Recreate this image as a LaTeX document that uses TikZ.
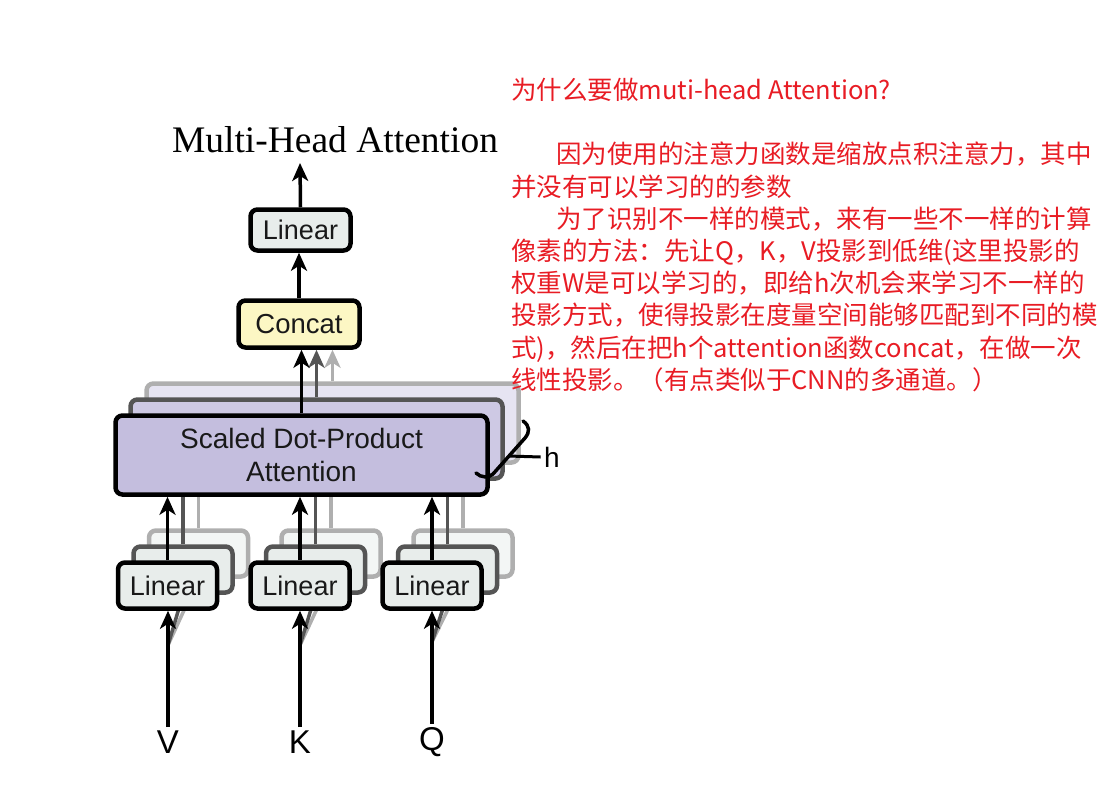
\documentclass[tikz,border=0pt]{standalone}
\usepackage{fontspec}
\setmainfont{Liberation Sans}
\newfontfamily\titlefont{Liberation Serif}
\newfontfamily\cjk{Noto Sans CJK SC}
\usetikzlibrary{arrows.meta}

\definecolor{linfill}{RGB}{232,237,235}
\definecolor{catfill}{RGB}{252,247,196}
\definecolor{attfill}{RGB}{196,190,222}
\definecolor{attfilltwo}{RGB}{206,201,228}
\definecolor{attfillthree}{RGB}{230,228,242}
\definecolor{midgray}{RGB}{85,85,85}
\definecolor{ligray}{RGB}{175,175,175}
\definecolor{notered}{RGB}{232,28,36}

\tikzset{
  box/.style={draw=black, line width=4.5pt, rounded corners=7pt, inner sep=0pt, text=black!90},
  linbox/.style={box, fill=linfill, minimum width=99pt, minimum height=46pt, font=\fontsize{27}{30}\selectfont},
  attbox/.style={box, fill=attfill, minimum width=372pt, minimum height=79pt, align=center, font=\fontsize{28}{33}\selectfont},
  midbox/.style={draw=midgray},
  backbox/.style={draw=ligray},
  arr/.style={line width=3.5pt, -{Stealth[length=18pt,width=16pt,inset=5pt]}},
  feed/.style={line width=3.5pt},
}

\begin{document}
\begin{tikzpicture}[x=1pt,y=1pt]
  \useasboundingbox (0,0) rectangle (1107,-797);

  % title
  \node[font=\titlefont\fontsize{37.5}{40}\selectfont] (title) at (335,-140) {Multi-Head Attention};

  % back copies (h heads)
  \node[attbox, backbox, fill=attfillthree] (att3) at (332.5,-423) {};
  \node[attbox, midbox, fill=attfilltwo] (att2) at (316.5,-439) {};
  \foreach \n/\x in {V/167.5,K/300,Q/432} {
    \node[linbox, backbox, fill=linfill!50] (lin\n3) at (\x+31,-553.5) {};
    \node[linbox, midbox] (lin\n2) at (\x+15.5,-569.5) {};
  }

  % inputs
  \node[font=\fontsize{33}{36}\selectfont] (V) at (168,-742) {V};
  \node[font=\fontsize{33}{36}\selectfont] (K) at (300,-742) {K};
  \node[font=\fontsize{33}{36}\selectfont] (Q) at (432,-742) {Q};
  \foreach \n in {V,K,Q} {
    \coordinate (split\n) at ([yshift=82pt]\n.north);
    \draw[feed, ligray] (split\n) -- (lin\n3.south);
    \draw[feed, midgray] (split\n) -- (lin\n2.south);
    \draw[feed, ligray] (lin\n3.north) -- (lin\n3.north |- att2.south);
    \draw[feed, midgray] (lin\n2.north) -- (lin\n2.north |- att2.south);
  }

  % front head
  \node[attbox] (att) at (301.5,-455) {Scaled Dot-Product\\Attention};
  \node[linbox] (linV) at (167.5,-585.5) {Linear};
  \node[linbox] (linK) at (300,-585.5) {Linear};
  \node[linbox] (linQ) at (432,-585.5) {Linear};
  \foreach \n in {V,K,Q} {
    \draw[arr] (\n.north) -- (\n.north |- lin\n.south);
    \draw[arr] (lin\n.north) -- (lin\n.north |- att.south);
  }

  % concat and output
  \node[box, fill=catfill, minimum width=121pt, minimum height=47pt, font=\fontsize{27.5}{30}\selectfont] (concat) at (299,-324) {Concat};
  \node[linbox, minimum width=100pt, minimum height=41pt] (linout) at (300.5,-230) {Linear};
  \coordinate (out) at (300,-163);
  \draw[arr, ligray] (att3.north) -- (att3.north |- concat.south);
  \draw[arr, midgray] (att2.north) -- (att2.north |- concat.south);
  \draw[arr] (att.north) -- (att.north |- concat.south);
  \draw[arr] (concat.north) -- (concat.north |- linout.south);
  \draw[arr] (linout.north) -- (out);

  % h brace
  \node[font=\fontsize{28}{30}\selectfont] (hlab) at (552,-457) {h};
  \coordinate (hmid) at (508,-456);
  \draw[line width=3.5pt, line cap=round] (523,-421) .. controls (530,-426) and (530,-432) .. (525,-438)
    -- (493,-474) .. controls (489,-478) and (481,-478) .. (476,-473);
  \draw[line width=3pt] (hmid) -- (hlab.west);

  % note
  \node[anchor=base west, align=left, inner sep=0pt, text=notered,
        font=\cjk\fontsize{25.5}{32.2}\selectfont] (note) at (511,-389.3)
    {为什么要做muti-head Attention?\\[32.2pt]
     \hspace*{45pt}因为使用的注意力函数是缩放点积注意力，其中\\
     并没有可以学习的的参数\\
     \hspace*{45pt}为了识别不一样的模式，来有一些不一样的计算\\
     像素的方法：先让Q，K，V投影到低维(这里投影的\\
     权重W是可以学习的，即给h次机会来学习不一样的\\
     投影方式，使得投影在度量空间能够匹配到不同的模\\
     式)，然后在把h个attention函数concat，在做一次\\
     线性投影。（有点类似于CNN的多通道。）};
\end{tikzpicture}
\end{document}
